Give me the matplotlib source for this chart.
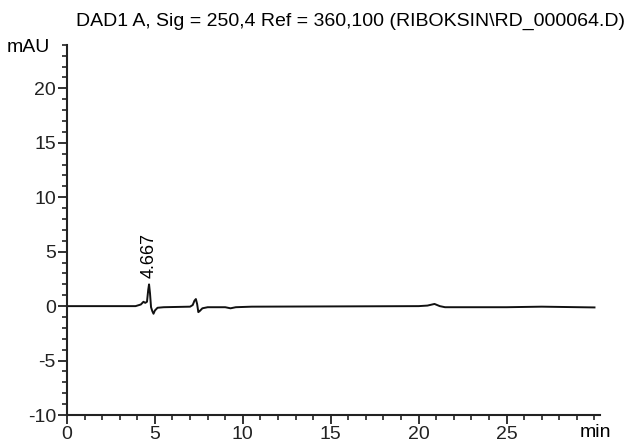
import matplotlib.pyplot as plt
from matplotlib.ticker import MultipleLocator

plt.rcParams['font.family'] = ['Liberation Sans', 'DejaVu Sans']
plt.rcParams['axes.unicode_minus'] = False

# chromatogram trace read as (time, signal) pairs
time_min = [0, 3.9, 4.2, 4.35, 4.45, 4.55, 4.62, 4.667, 4.72, 4.78, 4.85, 4.92,
            5.0, 5.15, 5.5, 7.0, 7.15, 7.25, 7.33, 7.40, 7.47, 7.55, 7.7, 8.0,
            9.0, 9.3, 9.6, 10.5, 20.0, 20.5, 20.9, 21.2, 21.5, 25.0, 27.0, 30.0]
signal_mau = [0, 0, 0.15, 0.4, 0.3, 0.4, 1.5, 2.0, 1.2, -0.1, -0.45, -0.7,
              -0.4, -0.15, -0.1, -0.05, 0.1, 0.5, 0.65, 0.2, -0.55, -0.45, -0.2, -0.1,
              -0.1, -0.2, -0.1, -0.05, 0.0, 0.05, 0.2, 0.0, -0.1, -0.1, -0.05, -0.12]

peak_rt = 4.667
peak_height = 2.0

fig = plt.figure(figsize=(6.32, 4.46), dpi=100)
ax = fig.add_axes([0.106, 0.0695, 0.843, 0.83])

ax.plot(time_min, signal_mau, color='#111111', lw=1.4)
ax.text(peak_rt, peak_height + 0.6, f"{peak_rt:.3f}", rotation=90,
        ha='center', va='bottom', fontsize=13)

ax.set_xlim(0, 30.3)
ax.set_ylim(-10, 24)
ax.xaxis.set_major_locator(MultipleLocator(5))
ax.xaxis.set_minor_locator(MultipleLocator(1))
ax.yaxis.set_major_locator(MultipleLocator(5))
ax.yaxis.set_minor_locator(MultipleLocator(1))

for s in ('top', 'right'):
    ax.spines[s].set_visible(False)
for s in ('left', 'bottom'):
    ax.spines[s].set_linewidth(1.5)
    ax.spines[s].set_color('#222222')

ax.tick_params(which='major', length=6.5, width=1.3, labelsize=14, direction='out',
               colors='#222222', pad=1.5)
ax.tick_params(which='minor', length=3.3, width=1.2, direction='out', colors='#222222')
ax.set_xticks([0, 5, 10, 15, 20, 25])

fig.text(0.918, 0.012, "min", fontsize=14, ha='left', va='bottom')
fig.text(0.045, 0.893, "mAU", fontsize=14, ha='center', va='center')
fig.text(0.554, 0.953, "DAD1 A, Sig = 250,4 Ref = 360,100 (RIBOKSIN\\RD_000064.D)",
         fontsize=14, ha='center', va='center')

fig.savefig("out.png", dpi=100)
